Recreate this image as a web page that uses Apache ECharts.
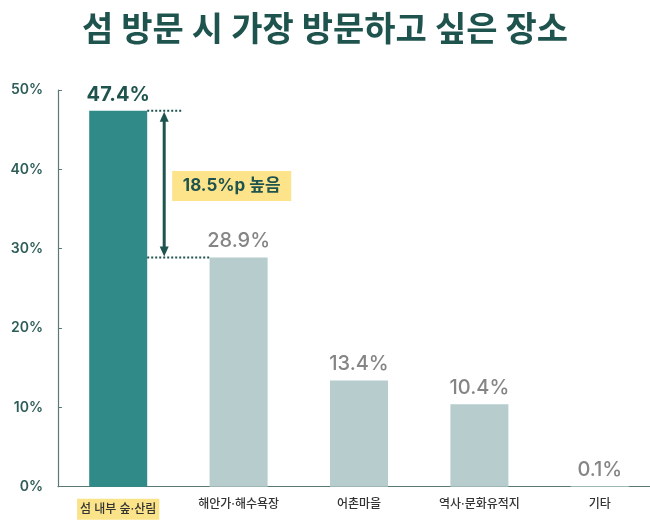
<!DOCTYPE html>
<html>
<head>
<meta charset="utf-8">
<script src="https://cdn.jsdelivr.net/npm/echarts@6/dist/echarts.min.js"></script>
<style>
html,body{margin:0;padding:0;background:#fff;}
#c{width:650px;height:525px;}
</style>
</head>
<body>
<div id="c"></div>
<script>
const titleText = '섬 방문 시 가장 방문하고 싶은 장소';
const categories = ['섬 내부 숲·산림', '해안가·해수욕장', '어촌마을', '역사·문화유적지', '기타'];
const values = [47.4, 28.9, 13.4, 10.4, 0.1];
const yTicks = [0, 10, 20, 30, 40, 50];
const gapLabel = '18.5%p 높음';

const FONT = 'Inter, "Noto Sans CJK KR", "Noto Sans", sans-serif';
const DARK = '#1f544e';

const chart = echarts.init(document.getElementById('c'), null, {renderer: 'canvas'});

chart.setOption({
  animation: false,
  backgroundColor: '#ffffff',
  title: {
    text: titleText,
    left: 'center',
    top: 9,
    textStyle: {fontFamily: FONT, fontSize: 34, fontWeight: 'bold', color: DARK}
  },
  grid: {left: 58, right: -10, top: 90, bottom: 38.3, containLabel: false, outerBoundsMode: 'none'},
  xAxis: {
    type: 'category',
    data: categories,
    boundaryGap: true,
    axisLine: {show: true, lineStyle: {color: '#5a7874', width: 1.2}},
    axisTick: {show: false},
    axisLabel: {
      interval: 0,
      margin: 12,
      fontFamily: FONT,
      fontSize: 12,
      fontWeight: 500,
      color: '#333333',
      formatter: function (v, i) { return i === 0 ? '{hl|' + v + '}' : v; },
      rich: {
        hl: {backgroundColor: '#fbe38a', padding: [5, 3, 4, 3], fontFamily: FONT, fontSize: 12, fontWeight: 500, color: '#333333'}
      }
    }
  },
  yAxis: {
    type: 'value',
    min: yTicks[0],
    max: yTicks[yTicks.length - 1],
    interval: 10,
    axisLine: {show: true, lineStyle: {color: '#5a7874', width: 1.2}},
    axisTick: {show: true, inside: true, length: 4, lineStyle: {color: '#5a7874'}},
    splitLine: {show: false},
    axisLabel: {
      margin: 15,
      fontFamily: FONT,
      fontSize: 14,
      fontWeight: 600,
      color: '#2d5d58',
      formatter: '{value}%'
    }
  },
  series: [{
    type: 'bar',
    barWidth: 58,
    data: values.map(function (v, i) {
      return {
        value: v,
        itemStyle: {color: i === 0 ? '#308a88' : '#b6cccd'},
        label: i === 0
          ? {color: DARK, fontWeight: 'bold'}
          : {color: '#858585', fontWeight: 500}
      };
    }),
    label: {
      show: true,
      position: 'top',
      distance: 6,
      fontFamily: FONT,
      fontSize: 20,
      formatter: function (p) { return p.value + '%'; }
    }
  }]
});

function drawAnnotations() {
  const p0 = chart.convertToPixel({seriesIndex: 0}, [0, values[0]]);
  const p1 = chart.convertToPixel({seriesIndex: 0}, [1, values[1]]);
  const half = 29;
  const x0r = p0[0] + half;
  const x1l = p1[0] - half;
  const ax = x0r + 17;
  const yTop = p0[1];
  const yBot = p1[1];
  const dash = {stroke: DARK, lineWidth: 2, lineDash: [2, 2]};
  const head = 10, hw = 4.5;
  const midY = (yTop + yBot) / 2;
  chart.setOption({
    graphic: [
      {type: 'line', shape: {x1: x0r, y1: yTop, x2: x0r + 34, y2: yTop}, style: dash, z: 10},
      {type: 'line', shape: {x1: x0r, y1: yBot, x2: x1l, y2: yBot}, style: dash, z: 10},
      {type: 'line', shape: {x1: ax, y1: yTop + head, x2: ax, y2: yBot - head}, style: {stroke: DARK, lineWidth: 3}, z: 10},
      {type: 'polygon', shape: {points: [[ax, yTop + 1], [ax - hw, yTop + head + 1], [ax + hw, yTop + head + 1]]}, style: {fill: DARK}, z: 10},
      {type: 'polygon', shape: {points: [[ax, yBot - 1], [ax - hw, yBot - head - 1], [ax + hw, yBot - head - 1]]}, style: {fill: DARK}, z: 10},
      {type: 'rect', shape: {x: x0r + 25, y: midY - 13, width: 119, height: 30}, style: {fill: '#fde38a'}, z: 10},
      {type: 'text', x: x0r + 25 + 59.5, y: midY + 2, style: {text: gapLabel, fontFamily: FONT, fontSize: 17, fontWeight: 'bold', fill: DARK, align: 'center', verticalAlign: 'middle'}, z: 11}
    ]
  });
}
drawAnnotations();
</script>
</body>
</html>
